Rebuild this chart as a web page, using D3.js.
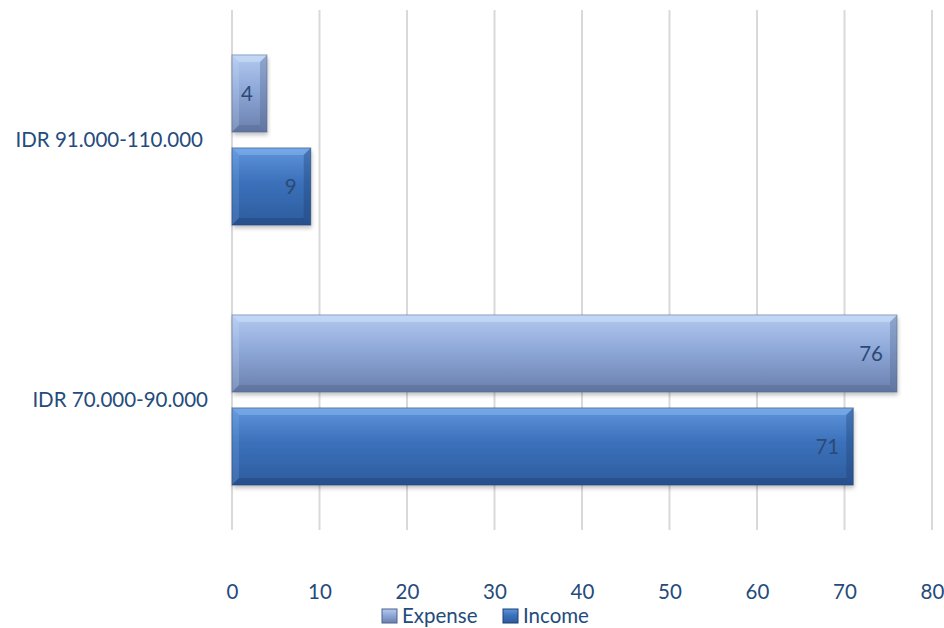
<!DOCTYPE html>
<html>
<head>
<meta charset="utf-8">
<script src="https://cdn.jsdelivr.net/npm/d3@7"></script>
<style>
  body { margin: 0; background: #fff; }
  svg { font-family: "Lato", "Open Sans", sans-serif; }
</style>
</head>
<body>
<div id="chart"></div>
<script>
const categories = ["IDR 91.000-110.000", "IDR 70.000-90.000"];
const seriesNames = ["Expense", "Income"];
const expense = [4, 76];
const income = [9, 71];
const xTicks = [0, 10, 20, 30, 40, 50, 60, 70, 80];

const width = 944, height = 628;
const margin = { top: 10, right: 12, bottom: 98, left: 232 };
const textColor = "#254b7c";
const fontSize = 20.5;

const svg = d3.select("#chart").append("svg")
  .attr("width", width)
  .attr("height", height);

const defs = svg.append("defs");

// gradients for the bevelled bars
const palettes = {
  Expense: { top: "#b3caf0", mid: "#8ea8d8", bot: "#6a80ad", hi: "#d4e4fb", lo: "#4f638c" },
  Income:  { top: "#5f95dc", mid: "#3b71ba", bot: "#2d5c9e", hi: "#8cb8f0", lo: "#1f3f70" }
};
Object.keys(palettes).forEach(function(k){
  const p = palettes[k];
  const g = defs.append("linearGradient")
    .attr("id", "grad-" + k)
    .attr("x1", 0).attr("y1", 0).attr("x2", 0).attr("y2", 1);
  g.append("stop").attr("offset", "0%").attr("stop-color", p.top);
  g.append("stop").attr("offset", "45%").attr("stop-color", p.mid);
  g.append("stop").attr("offset", "100%").attr("stop-color", p.bot);
});

const shadow = defs.append("filter").attr("id", "shadow")
  .attr("x", "-5%").attr("y", "-5%").attr("width", "115%").attr("height", "130%");
shadow.append("feDropShadow")
  .attr("dx", 1).attr("dy", 3).attr("stdDeviation", 2)
  .attr("flood-color", "#000").attr("flood-opacity", 0.25);

const x = d3.scaleLinear()
  .domain([0, 80])
  .range([margin.left, width - margin.right]);

const y0 = d3.scaleBand()
  .domain(categories)
  .range([margin.top, height - margin.bottom])
  .paddingInner(0)
  .paddingOuter(0);

const y1 = d3.scaleBand()
  .domain(seriesNames)
  .range([0, y0.bandwidth()])
  .paddingInner(0.17)
  .paddingOuter(0.483);

// gridlines
svg.append("g")
  .selectAll("line")
  .data(xTicks)
  .enter().append("line")
  .attr("x1", d => x(d)).attr("x2", d => x(d))
  .attr("y1", margin.top).attr("y2", height - margin.bottom)
  .attr("stroke", "#d9d9d9")
  .attr("stroke-width", 2);

// x axis labels
const xAxis = d3.axisBottom(x).tickValues(xTicks).tickSize(0).tickPadding(0);
const ax = svg.append("g")
  .attr("transform", `translate(0, ${height - margin.bottom + 54})`)
  .call(xAxis);
ax.select(".domain").remove();
ax.selectAll("text")
  .attr("fill", textColor)
  .attr("font-size", fontSize)
  .attr("font-family", "Lato, sans-serif");

// category labels
svg.append("g")
  .selectAll("text")
  .data(categories)
  .enter().append("text")
  .attr("x", (d, i) => i == 0 ? 203 : 208)
  .attr("y", d => y0(d) + y0.bandwidth() / 2)
  .attr("dy", "0.35em")
  .attr("text-anchor", "end")
  .attr("fill", textColor)
  .attr("font-size", fontSize)
  .text(d => d);

const rows = [];
categories.forEach(function(c, i){
  rows.push({ cat: c, series: "Expense", value: expense[i] });
  rows.push({ cat: c, series: "Income", value: income[i] });
});

const bev = 7;
const bars = svg.append("g")
  .selectAll("g")
  .data(rows)
  .enter().append("g")
  .attr("transform", d => `translate(${x(0)}, ${y0(d.cat) + y1(d.series)})`);

bars.each(function(d){
  const g = d3.select(this);
  const w = x(d.value) - x(0);
  const h = y1.bandwidth();
  const p = palettes[d.series];
  const b = Math.min(bev, w / 2);

  g.append("rect")
    .attr("width", w).attr("height", h)
    .attr("fill", "url(#grad-" + d.series + ")")
    .attr("filter", "url(#shadow)");

  // bevel edges
  g.append("polygon")
    .attr("points", [[0,0],[w,0],[w-b,b],[b,b]].join(" "))
    .attr("fill", p.hi).attr("opacity", 0.5);
  g.append("polygon")
    .attr("points", [[0,0],[b,b],[b,h-b],[0,h]].join(" "))
    .attr("fill", p.hi).attr("opacity", 0.2);
  g.append("polygon")
    .attr("points", [[w,0],[w,h],[w-b,h-b],[w-b,b]].join(" "))
    .attr("fill", p.lo).attr("opacity", 0.35);
  g.append("polygon")
    .attr("points", [[0,h],[w,h],[w-b,h-b],[b,h-b]].join(" "))
    .attr("fill", p.lo).attr("opacity", 0.4);
  g.append("rect")
    .attr("width", w).attr("height", h)
    .attr("fill", "none")
    .attr("stroke", p.lo).attr("stroke-opacity", 0.5);

  g.append("text")
    .attr("x", w - 14)
    .attr("y", h / 2)
    .attr("dy", "0.35em")
    .attr("text-anchor", "end")
    .attr("fill", "#2b4a75")
    .attr("font-size", fontSize)
    .text(d.value);
});

// legend
const legend = svg.append("g")
  .attr("transform", `translate(0, ${height - 12})`);
const legendItems = [
  { name: "Expense", x: 382 },
  { name: "Income", x: 503 }
];
legendItems.forEach(function(it){
  const p = palettes[it.name];
  legend.append("rect")
    .attr("x", it.x).attr("y", -7)
    .attr("width", 15).attr("height", 14)
    .attr("fill", "url(#grad-" + it.name + ")")
    .attr("stroke", p.lo);
  legend.append("text")
    .attr("x", it.x + 20)
    .attr("y", 0)
    .attr("dy", "0.35em")
    .attr("fill", textColor)
    .attr("font-size", fontSize)
    .text(it.name);
});
</script>
</body>
</html>
